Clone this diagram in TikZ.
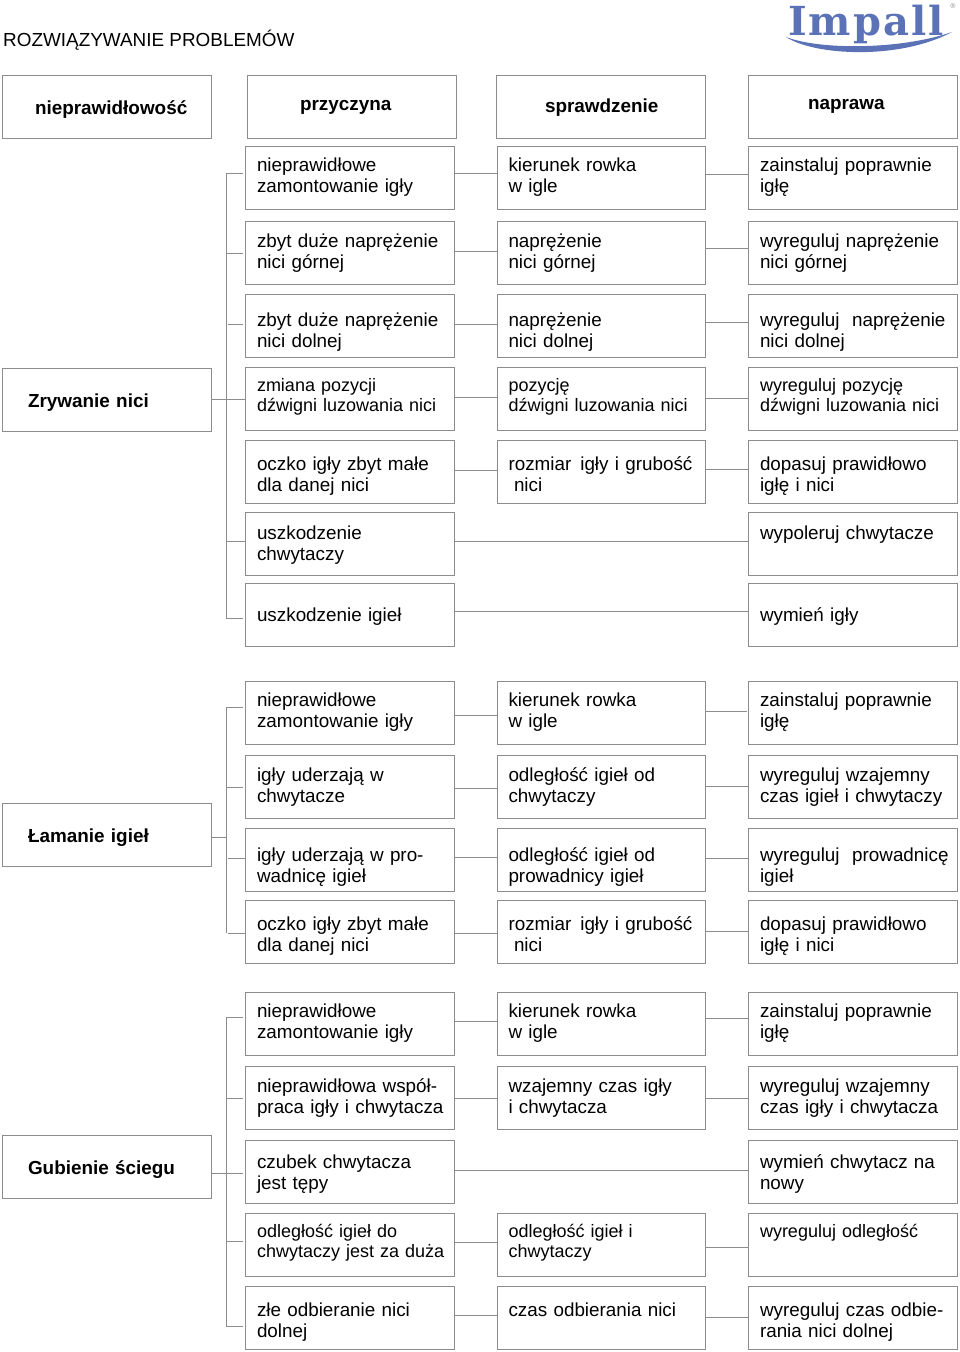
\documentclass[tikz,border=0pt]{standalone}
\usepackage{fontspec}
\setmainfont{Liberation Sans}
\newfontfamily\logofont[LetterSpace=5]{DejaVu Serif}
\definecolor{linegray}{HTML}{8C8C8C}
\definecolor{logoblue}{HTML}{5B72B6}
\tikzset{
    box/.style={draw=linegray, line width=1pt, outer sep=0pt, inner ysep=0pt, minimum height=63pt, align=left, text depth=20pt},
    bl/.style={text height={20pt+2pt*(#1)}},
    cell/.style={box, text width=185.5pt, inner xsep=11.5pt, font=\fontsize{18.85}{21}\selectfont},
    cellsmall/.style={cell, font=\fontsize{18}{20}\selectfont},
    head/.style={box, text width=209pt, inner xsep=0pt, font=\bfseries\fontsize{18.9}{21}\selectfont},
    link/.style={draw=linegray, line width=1pt},
}
\begin{document}
\begin{tikzpicture}[x=1pt,y=-1pt]
    \useasboundingbox (0,0) rectangle (960,1352);

    % Title
    \node[anchor=base west, inner sep=0pt, font=\fontsize{18.9}{21}\selectfont] (title) at (3,46) {ROZWIĄZYWANIE PROBLEMÓW};
    % Logo
    \node[anchor=base west, inner sep=0pt, text=logoblue, font=\logofont\bfseries\fontsize{40}{40}\selectfont] (logo) at (788,35) {Impall};
    \fill[logoblue] (786,37) .. controls (815,56) and (900,60) .. (952,32) .. controls (900,50) and (820,50) .. (786,37);
    \node[inner sep=0pt, text=linegray, font=\fontsize{7}{7}\selectfont] (reg) at (953,6) {®};

    % Header
    \node[head,bl=7.3] (h1) at (106.5,107) {\hspace*{33pt}nieprawidłowość};
    \node[head,bl=3] (h2) at (351.5,107) {\hspace*{53pt}przyczyna};
    \node[head,bl=5] (h3) at (600.5,107) {\hspace*{49pt}sprawdzenie};
    \node[head,bl=2] (h4) at (852.5,107) {\hspace*{60pt}naprawa};

    % Zrywanie nici
    \node[head,bl=7.8] (z1) at (106.5,399.5) {\hspace*{26pt}Zrywanie nici};
    \node[cell,bl=-6.3] (a1) at (349.75,177.5) {nieprawidłowe\\zamontowanie igły};
    \node[cell,bl=-6.3] (b1) at (601.25,177.5) {kierunek rowka\\w igle};
    \node[cell,bl=-6.3] (c1) at (852.75,177.5) {zainstaluj poprawnie\\igłę};
    \node[cell,bl=-5.5] (a2) at (349.75,252.5) {zbyt duże naprężenie\\nici górnej};
    \node[cell,bl=-5.5] (b2) at (601.25,252.5) {naprężenie\\nici górnej};
    \node[cell,bl=-5.5] (c2) at (852.75,252.5) {wyreguluj naprężenie\\nici górnej};
    \node[cell,bl=0.5] (a3) at (349.75,325.5) {zbyt duże naprężenie\\nici dolnej};
    \node[cell,bl=0.5] (b3) at (601.25,325.5) {naprężenie\\nici dolnej};
    \node[cell,bl=0.5] (c3) at (852.75,325.5) {\mbox{wyreguluj~~naprężenie}\\nici dolnej};
    \node[cellsmall,bl=-6.8] (a4) at (349.75,398.5) {zmiana pozycji\\dźwigni luzowania nici};
    \node[cellsmall,bl=-6.8] (b4) at (601.25,398.5) {pozycję\\dźwigni luzowania nici};
    \node[cellsmall,bl=-6.8] (c4) at (852.75,398.5) {wyreguluj pozycję\\dźwigni luzowania nici};
    \node[cell,bl=-0.8] (a5) at (349.75,471.5) {oczko igły zbyt małe\\dla danej nici};
    \node[cell,bl=-0.8] (b5) at (601.25,471.5) {\mbox{rozmiar\hspace{9pt}igły i grubość}\\\hspace*{5.5pt}nici};
    \node[cell,bl=-0.8] (c5) at (852.75,471.5) {dopasuj prawidłowo\\igłę i nici};
    \node[cell,bl=-4] (a6) at (349.75,543.5) {uszkodzenie\\chwytaczy};
    \node[cell,bl=-4] (c6) at (852.75,543.5) {wypoleruj chwytacze};
    \node[cell,bl=6.7] (a7) at (349.75,615) {uszkodzenie igieł};
    \node[cell,bl=6.7] (c7) at (852.75,615) {wymień igły};
    % Zrywanie nici links
    \coordinate (s1) at (226,173);
    \coordinate (s2) at (226,253);
    \coordinate (s3) at (226,324);
    \coordinate (s6) at (226,541);
    \coordinate (s7) at (226,618);
    \draw[link] (s1) -- (s7);
    \draw[link,shorten >=3pt] (s1) -- (a1.west |- s1);
    \draw[link,shorten >=3pt] (s2) -- (a2.west |- s2);
    \draw[link,shorten >=3pt,shorten <=2pt] (s3) -- (a3.west |- s3);
    \draw[link] (s6) -- (a6.west |- s6);
    \draw[link,shorten >=3pt] (s7) -- (a7.west |- s7);
    \draw[link] (z1.east) -- (a4.west |- z1.east);
    \draw[link] (a1.east |- 0,173) -- (b1.west |- 0,173);
    \draw[link] (a2.east |- 0,251) -- (b2.west |- 0,251);
    \draw[link] (a3.east |- 0,324) -- (b3.west |- 0,324);
    \draw[link] (a4.east |- 0,397) -- (b4.west |- 0,397);
    \draw[link] (a5.east |- 0,470) -- (b5.west |- 0,470);
    \draw[link] (a6.east |- 0,541) -- (c6.west |- 0,541);
    \draw[link] (a7.east |- 0,611) -- (c7.west |- 0,611);
    \draw[link] (b1.east |- 0,174) -- (c1.west |- 0,174);
    \draw[link] (b2.east |- 0,248) -- (c2.west |- 0,248);
    \draw[link] (b3.east |- 0,322) -- (c3.west |- 0,322);
    \draw[link] (b4.east |- 0,398) -- (c4.west |- 0,398);
    \draw[link] (b5.east |- 0,469) -- (c5.west |- 0,469);

    % Lamanie igiel
    \node[head,bl=7.5] (z2) at (106.5,834.5) {\hspace*{26pt}Łamanie igieł};
    \node[cell,bl=-5.8] (d1) at (349.75,712.5) {nieprawidłowe\\zamontowanie igły};
    \node[cell,bl=-5.8] (e1) at (601.25,712.5) {kierunek rowka\\w igle};
    \node[cell,bl=-5.8] (f1) at (852.75,712.5) {zainstaluj poprawnie\\igłę};
    \node[cell,bl=-4.8] (d2) at (349.75,786.5) {igły uderzają w\\chwytacze};
    \node[cell,bl=-4.8] (e2) at (601.25,786.5) {odległość igieł od\\chwytaczy};
    \node[cell,bl=-4.8] (f2) at (852.75,786.5) {wyreguluj wzajemny\\czas igieł i chwytaczy};
    \node[cell,bl=1.6] (d3) at (349.75,859.5) {igły uderzają w pro-\\wadnicę igieł};
    \node[cell,bl=1.6] (e3) at (601.25,859.5) {odległość igieł od\\prowadnicy igieł};
    \node[cell,bl=1.6] (f3) at (852.75,859.5) {\mbox{wyreguluj~~prowadnicę}\\igieł};
    \node[cell,bl=-1.5] (d4) at (349.75,931.5) {oczko igły zbyt małe\\dla danej nici};
    \node[cell,bl=-1.5] (e4) at (601.25,931.5) {\mbox{rozmiar\hspace{9pt}igły i grubość}\\\hspace*{5.5pt}nici};
    \node[cell,bl=-1.5] (f4) at (852.75,931.5) {dopasuj prawidłowo\\igłę i nici};
    % Lamanie igiel links
    \coordinate (t1) at (226,707);
    \coordinate (t2) at (226,787);
    \coordinate (tz) at (226,837);
    \coordinate (t3) at (226,858);
    \coordinate (t4) at (226,933);
    \draw[link] (t1) -- (t4);
    \draw[link,shorten >=3pt] (t1) -- (d1.west |- t1);
    \draw[link,shorten >=3pt] (t2) -- (d2.west |- t2);
    \draw[link,shorten <=2pt] (t3) -- (d3.west |- t3);
    \draw[link,shorten <=2pt] (t4) -- (d4.west |- t4);
    \draw[link] (z2.east |- tz) -- (tz);
    \draw[link] (d1.east |- 0,715) -- (e1.west |- 0,715);
    \draw[link] (d2.east |- 0,788) -- (e2.west |- 0,788);
    \draw[link] (d3.east |- 0,857) -- (e3.west |- 0,857);
    \draw[link] (d4.east |- 0,933) -- (e4.west |- 0,933);
    \draw[link,shorten >=2pt] (e1.east |- 0,711) -- (f1.west |- 0,711);
    \draw[link] (e2.east |- 0,786) -- (f2.west |- 0,786);
    \draw[link] (e3.east |- 0,858) -- (f3.west |- 0,858);
    \draw[link] (e4.east |- 0,931) -- (f4.west |- 0,931);

    % Gubienie sciegu
    \node[head,bl=7.5] (z3) at (106.5,1166.5) {\hspace*{26pt}Gubienie ściegu};
    \node[cell,bl=-5.8] (g1) at (349.75,1023.5) {nieprawidłowe\\zamontowanie igły};
    \node[cell,bl=-5.8] (k1) at (601.25,1023.5) {kierunek rowka\\w igle};
    \node[cell,bl=-5.8] (m1) at (852.75,1023.5) {zainstaluj poprawnie\\igłę};
    \node[cell,bl=-5.2] (g2) at (349.75,1097.5) {nieprawidłowa współ-\\\mbox{praca igły i chwytacza}};
    \node[cell,bl=-5.2] (k2) at (601.25,1097.5) {wzajemny czas igły\\i chwytacza};
    \node[cell,bl=-5.2] (m2) at (852.75,1097.5) {wyreguluj wzajemny\\czas igły i chwytacza};
    \node[cell,bl=-3.2] (g3) at (349.75,1171.5) {czubek chwytacza\\jest tępy};
    \node[cell,bl=-3.2] (m3) at (852.75,1171.5) {wymień chwytacz na\\nowy};
    \node[cellsmall,bl=-6.8] (g4) at (349.75,1244.5) {odległość igieł do\\\mbox{chwytaczy jest za duża}};
    \node[cellsmall,bl=-6.8] (k4) at (601.25,1244.5) {odległość igieł i\\chwytaczy};
    \node[cellsmall,bl=-6.8] (m4) at (852.75,1244.5) {wyreguluj odległość};
    \node[cell,bl=-1.2] (g5) at (349.75,1317.5) {złe odbieranie nici\\dolnej};
    \node[cell,bl=-1.2] (k5) at (601.25,1317.5) {czas odbierania nici};
    \node[cell,bl=-1.2] (m5) at (852.75,1317.5) {wyreguluj czas odbie-\\rania nici dolnej};
    % Gubienie sciegu links
    \coordinate (u1) at (226,1017);
    \coordinate (u2) at (226,1098);
    \coordinate (u4) at (226,1241);
    \coordinate (u5) at (226,1326);
    \draw[link] (u1) -- (u5);
    \draw[link,shorten >=3pt] (u1) -- (g1.west |- u1);
    \draw[link,shorten >=3pt] (u2) -- (g2.west |- u2);
    \draw[link,shorten >=3pt] (u4) -- (g4.west |- u4);
    \draw[link,shorten >=3pt] (u5) -- (g5.west |- u5);
    \draw[link,shorten >=3pt] (z3.east |- 0,1173) -- (g3.west |- 0,1173);
    \draw[link] (g1.east |- 0,1021) -- (k1.west |- 0,1021);
    \draw[link] (g2.east |- 0,1098) -- (k2.west |- 0,1098);
    \draw[link] (g3.east |- 0,1170) -- (m3.west |- 0,1170);
    \draw[link] (g4.east |- 0,1242) -- (k4.west |- 0,1242);
    \draw[link] (g5.east |- 0,1315) -- (k5.west |- 0,1315);
    \draw[link] (k1.east |- 0,1018) -- (m1.west |- 0,1018);
    \draw[link] (k2.east |- 0,1098) -- (m2.west |- 0,1098);
    \draw[link] (k4.east |- 0,1247) -- (m4.west |- 0,1247);
    \draw[link] (k5.east |- 0,1317) -- (m5.west |- 0,1317);
\end{tikzpicture}
\end{document}
